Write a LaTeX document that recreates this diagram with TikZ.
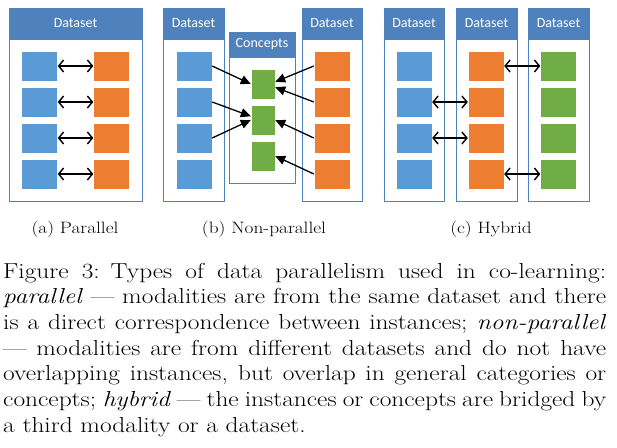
\documentclass[tikz,border=0pt]{standalone}
\usepackage{fontspec}
\newfontfamily\boxfont{Carlito}
\newfontfamily\capfont{Latin Modern Roman}[Ligatures=TeX, FakeStretch=1.17]
\usetikzlibrary{arrows.meta,shadows}
\definecolor{hdrblue}{HTML}{4F81BD}
\definecolor{itemblue}{HTML}{5B9BD5}
\definecolor{itemorange}{HTML}{ED7D31}
\definecolor{itemgreen}{HTML}{70AD47}
\tikzset{
	frame/.style={draw=hdrblue, line width=0.9pt, fill=white, inner sep=0pt, drop shadow={opacity=0.12, shadow xshift=1.2pt, shadow yshift=-1.2pt}},
	header/.style={draw=hdrblue, line width=0.9pt, fill=hdrblue, text=white, inner sep=0pt, font=\boxfont\fontsize{14}{16}\selectfont},
	item/.style={draw=white, line width=0.4pt, minimum width=36pt, minimum height=30pt, inner sep=0pt},
	blueitem/.style={item, fill=itemblue},
	orangeitem/.style={item, fill=itemorange},
	greenitem/.style={item, fill=itemgreen, minimum width=24pt},
	pairarrow/.style={{Straight Barb[length=5pt,width=12pt]}-{Straight Barb[length=5pt,width=12pt]}, line width=1.4pt},
	maparrow/.style={-{Triangle[length=10pt,width=9pt]}, line width=1.3pt},
	subcap/.style={anchor=base, inner sep=0pt, font=\capfont\fontsize{16.5}{20}\selectfont}
}

\begin{document}
\begin{tikzpicture}[x=1pt, y=-1pt]
			%%%%% START %%%%%
			\useasboundingbox (0, 0) rectangle (617, 447);
			
			%%%%% (a) parallel
			\node[frame, minimum width=133pt, minimum height=193pt] (fa) at (75.5, 104.5) {};
			\node[header, minimum width=133pt, minimum height=31pt] (ha) at (75.5, 23.5) {Dataset};
			
			\node[blueitem] (ablue1) at (39.5, 66) {};
			\node[blueitem] (ablue2) at (39.5, 102) {};
			\node[blueitem] (ablue3) at (39.5, 138) {};
			\node[blueitem] (ablue4) at (39.5, 174) {};
			\node[orangeitem] (aorange1) at (111.5, 66) {};
			\node[orangeitem] (aorange2) at (111.5, 102) {};
			\node[orangeitem] (aorange3) at (111.5, 138) {};
			\node[orangeitem] (aorange4) at (111.5, 174) {};
			
			\draw[pairarrow] (ablue1.east) -- (aorange1.west);
			\draw[pairarrow] (ablue2.east) -- (aorange2.west);
			\draw[pairarrow] (ablue3.east) -- (aorange3.west);
			\draw[pairarrow] (ablue4.east) -- (aorange4.west);
			
			\node[subcap] (capa) at (75, 233) {(a) Parallel};
			
			%%%%% (b) non-parallel
			\node[frame, minimum width=61pt, minimum height=193pt] (fbl) at (193.5, 104.5) {};
			\node[header, minimum width=61pt, minimum height=31pt] (hbl) at (193.5, 23.5) {Dataset};
			\node[frame, minimum width=66pt, minimum height=151pt] (fbc) at (262, 107.5) {};
			\node[header, minimum width=66pt, minimum height=25pt] (hbc) at (262, 44.5) {Concepts};
			\node[frame, minimum width=60pt, minimum height=193pt] (fbr) at (332, 104.5) {};
			\node[header, minimum width=60pt, minimum height=31pt] (hbr) at (332, 23.5) {Dataset};
			
			\node[blueitem] (bblue1) at (194, 66) {};
			\node[blueitem] (bblue2) at (194, 102) {};
			\node[blueitem] (bblue3) at (194, 138) {};
			\node[blueitem] (bblue4) at (194, 174) {};
			\node[greenitem] (bgreen1) at (263, 84) {};
			\node[greenitem] (bgreen2) at (263, 120) {};
			\node[greenitem] (bgreen3) at (263, 156) {};
			\node[orangeitem] (borange1) at (332, 66) {};
			\node[orangeitem] (borange2) at (332, 102) {};
			\node[orangeitem] (borange3) at (332, 138) {};
			\node[orangeitem] (borange4) at (332, 174) {};
			
			\draw[maparrow] (bblue1.east) -- (bgreen1.west);
			\draw[maparrow] (bblue2.east) -- (bgreen2.163);
			\draw[maparrow] (bblue3.east) -- (bgreen2.west);
			\draw[maparrow] (borange1.west) -- (bgreen1.10);
			\draw[maparrow] (borange2.west) -- (bgreen1.-15);
			\draw[maparrow] (borange3.west) -- (bgreen2.east);
			\draw[maparrow] (borange4.west) -- (bgreen3.east);
			
			\node[subcap] (capb) at (264, 233) {(b) Non-parallel};
			
			%%%%% (c) hybrid
			\node[frame, minimum width=60pt, minimum height=193pt] (fc1) at (414, 104.5) {};
			\node[header, minimum width=60pt, minimum height=31pt] (hc1) at (414, 23.5) {Dataset};
			\node[frame, minimum width=61pt, minimum height=193pt] (fc2) at (486.5, 104.5) {};
			\node[header, minimum width=61pt, minimum height=31pt] (hc2) at (486.5, 23.5) {Dataset};
			\node[frame, minimum width=61pt, minimum height=193pt] (fc3) at (558.5, 104.5) {};
			\node[header, minimum width=61pt, minimum height=31pt] (hc3) at (558.5, 23.5) {Dataset};
			
			\node[blueitem] (cblue1) at (414, 66) {};
			\node[blueitem] (cblue2) at (414, 102) {};
			\node[blueitem] (cblue3) at (414, 138) {};
			\node[blueitem] (cblue4) at (414, 174) {};
			\node[orangeitem] (corange1) at (486, 66) {};
			\node[orangeitem] (corange2) at (486, 102) {};
			\node[orangeitem] (corange3) at (486, 138) {};
			\node[orangeitem] (corange4) at (486, 174) {};
			\node[greenitem, minimum width=36pt] (cgreen1) at (558.5, 66) {};
			\node[greenitem, minimum width=36pt] (cgreen2) at (558.5, 102) {};
			\node[greenitem, minimum width=36pt] (cgreen3) at (558.5, 138) {};
			\node[greenitem, minimum width=36pt] (cgreen4) at (558.5, 174) {};
			
			\draw[pairarrow] (corange1.east) -- (cgreen1.west);
			\draw[pairarrow] (cblue2.east) -- (corange2.west);
			\draw[pairarrow] (cblue3.east) -- (corange3.west);
			\draw[pairarrow] (corange4.east) -- (cgreen4.west);
			
			\node[subcap] (capc) at (491, 233) {(c) Hybrid};
			
			%%%%% caption
			\node[anchor=north west, inner sep=0pt, text width=603pt, align=justify, font=\capfont\fontsize{21.7}{25.7}\selectfont] (caption) at (3, 260) {\hyphenpenalty=10000 \exhyphenpenalty=10000 \strut Figure 3:\enspace Types of data parallelism used in co-learning:\linebreak \textit{parallel} --- modalities are from the same dataset and there\linebreak is a direct correspondence between instances; \textit{non-parallel}\linebreak --- modalities are from different datasets and do not have\linebreak overlapping instances, but overlap in general categories or\linebreak concepts; \textit{hybrid} --- the instances or concepts are bridged by\linebreak a third modality or a dataset.};
			
			%%%%% END %%%%%
\end{tikzpicture}
\end{document}
